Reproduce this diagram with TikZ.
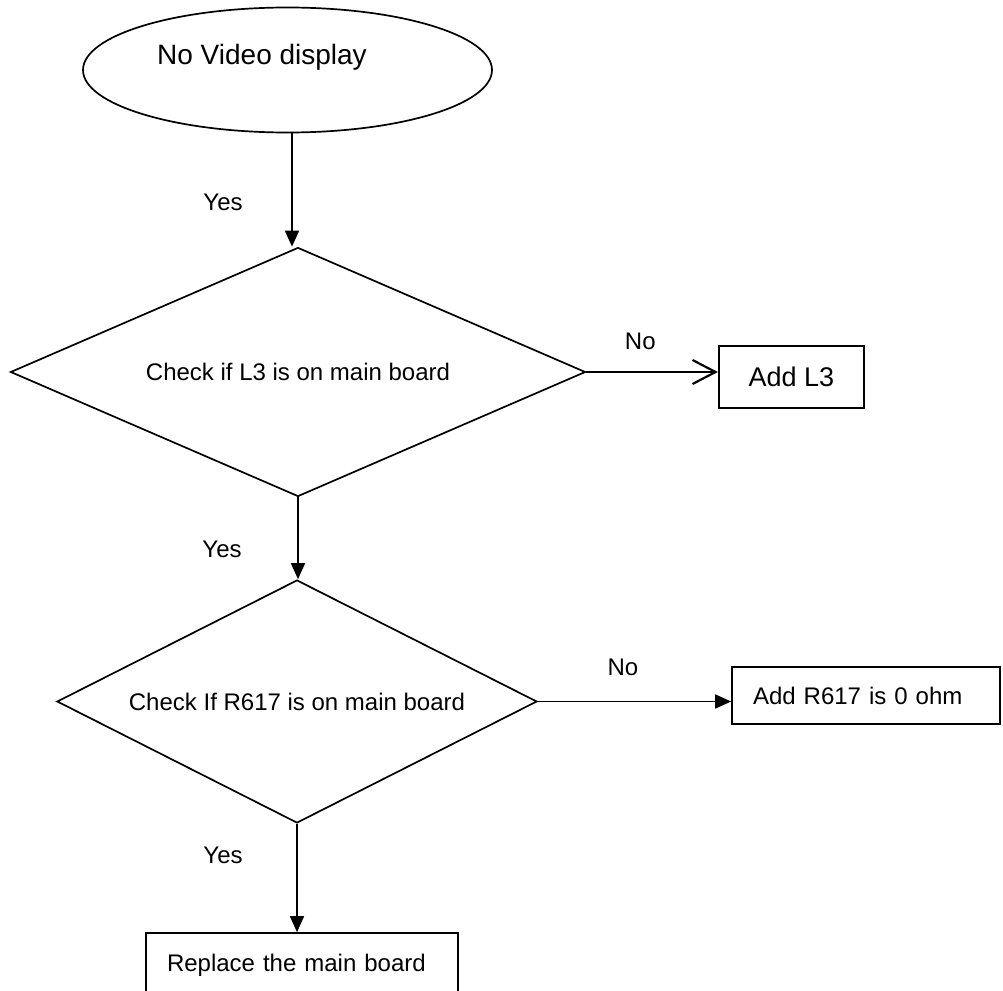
\documentclass[tikz,border=0pt]{standalone}
\usepackage{fontspec}
\setmainfont{Liberation Sans}
\usetikzlibrary{shapes.geometric,arrows.meta}

\begin{document}
\begin{tikzpicture}[x=1pt,y=-1pt,line width=1.7pt,
  every node/.style={font=\fontsize{24}{28}\selectfont},
  start/.style={ellipse,draw,minimum width=409pt,minimum height=125pt,inner sep=0pt},
  check/.style={diamond,draw,inner sep=2pt},
  act/.style={rectangle,draw,inner sep=0pt},
  >={Triangle[length=16pt,width=14pt]}]
 \useasboundingbox (0,0) rectangle (1003,990);
 \clip (0,0) rectangle (1003,990);
 \node[start] (start) at (287.5,70) {};
 \node[font=\fontsize{28}{32}\selectfont] (start_t) at (262,57) {No Video display};
 \node[check,aspect=2.31,minimum width=575pt,minimum height=249pt] (d_l3) at (298,372) {Check if L3 is on main board};
 \node[act,line width=2.2pt,minimum width=145pt,minimum height=62pt,font=\fontsize{27}{31}\selectfont] (add_l3) at (791.5,377) {Add L3};
 \node[check,aspect=1.975,minimum width=480pt,minimum height=243pt] (d_r617) at (297,701.5) {Check If R617 is on main board};
 \node[act,minimum width=268pt,minimum height=57pt,text width=226pt,align=left] (add_r617) at (866,695.5) {Add R617 is 0 ohm};
 \node[act,minimum width=312pt,minimum height=64pt,text width=270pt,align=left] (replace) at (302,965) {Replace the main board};
 \path[->]
 ([xshift=4.5pt]start.south) edge node[pos=0.61,xshift=-69pt] {Yes} ([xshift=-6pt]d_l3.north)
 (d_l3.south) edge node[pos=0.64,xshift=-76pt] {Yes} (d_l3.south |- d_r617.north)
 (d_r617.south) edge node[pos=0.29,xshift=-74pt] {Yes} (d_r617.south |- replace.north)
 (d_r617.east) edge node[pos=0.44,yshift=34pt] {No} (d_r617.east -| add_r617.west);
 \path[-{Straight Barb[length=23pt,width=24pt]},line width=2.2pt]
 (d_l3.east) edge node[pos=0.41,yshift=31pt] {No} (d_l3.east -| add_l3.west);
\end{tikzpicture}
\end{document}
